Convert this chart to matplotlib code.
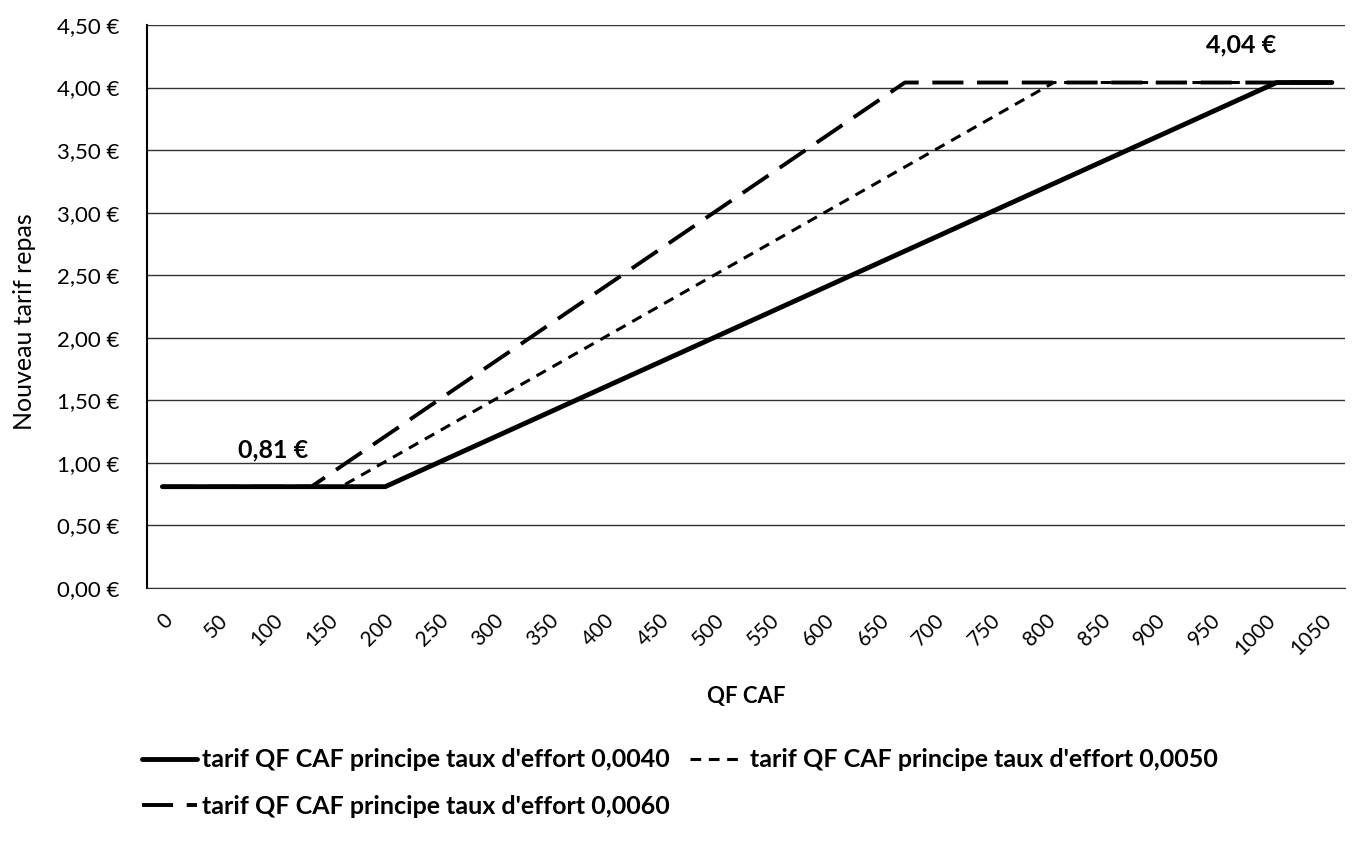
import matplotlib.pyplot as plt

plt.rcParams['font.family'] = ['Lato', 'DejaVu Sans']

# points de rupture (QF, tarif)
qf_0040 = [0, 202, 1010, 1060]
tarif_0040 = [0.81, 0.81, 4.04, 4.04]
qf_0050 = [0, 162, 808, 1060]
tarif_0050 = [0.81, 0.81, 4.04, 4.04]
qf_0060 = [0, 135, 673, 1060]
tarif_0060 = [0.81, 0.81, 4.04, 4.04]

x_ticks = list(range(0, 1051, 50))
y_ticks = [0, 0.5, 1, 1.5, 2, 2.5, 3, 3.5, 4, 4.5]
y_labels = ['0,00 €', '0,50 €', '1,00 €', '1,50 €', '2,00 €', '2,50 €',
            '3,00 €', '3,50 €', '4,00 €', '4,50 €']

fig = plt.figure(figsize=(13.57, 8.49), dpi=100)
ax = fig.add_axes([0.1083, 0.3074, 0.8829, 0.6632])

l40, = ax.plot(qf_0040, tarif_0040, color='black', lw=3.5, solid_capstyle='round',
               label="tarif QF CAF principe taux d'effort 0,0040", zorder=4)
l50, = ax.plot(qf_0050, tarif_0050, color='black', lw=2.2, dashes=(3.5, 2.5),
               label="tarif QF CAF principe taux d'effort 0,0050", zorder=3)
l60, = ax.plot(qf_0060, tarif_0060, color='black', lw=2.8, dashes=(8, 3.5),
               label="tarif QF CAF principe taux d'effort 0,0060", zorder=3)

ax.set_xlim(-14, 1072)
ax.set_ylim(0, 4.5)
ax.set_yticks(y_ticks)
ax.set_yticklabels(y_labels, fontsize=16)
ax.set_xticks(x_ticks)
ax.set_xticklabels([str(v) for v in x_ticks], fontsize=15, rotation=45,
                   ha='right', rotation_mode='anchor')
ax.tick_params(axis='both', length=0)
ax.tick_params(axis='y', pad=20)
ax.tick_params(axis='x', pad=16)
ax.grid(axis='y', color='#333333', lw=1.0)
ax.set_axisbelow(True)
for s in ['top', 'right']:
    ax.spines[s].set_visible(False)
ax.spines['left'].set_color('black')
ax.spines['left'].set_linewidth(1.5)
ax.spines['bottom'].set_color('#333333')

ax.set_ylabel('Nouveau tarif repas', fontsize=18)
ax.yaxis.set_label_coords(-0.093, 0.474)
ax.set_xlabel('QF CAF', fontsize=16, fontweight='bold', labelpad=20)

ax.text(100, 1.1, '0,81 €', fontsize=18, fontweight='bold', ha='center', va='center')
ax.text(978, 4.34, '4,04 €', fontsize=18, fontweight='bold', ha='center', va='center')

# ordre colonne par colonne : 0,0040 / 0,0060 puis 0,0050
fig.legend([l40, l60, l50], [l40.get_label(), l60.get_label(), l50.get_label()],
           loc='upper left', bbox_to_anchor=(0.088, 0.145), ncol=2, frameon=False,
           prop={'size': 18, 'weight': 'bold'}, handlelength=2.2,
           handletextpad=0.2, columnspacing=0.8, labelspacing=0.95)

fig.savefig('out.png', dpi=100)
